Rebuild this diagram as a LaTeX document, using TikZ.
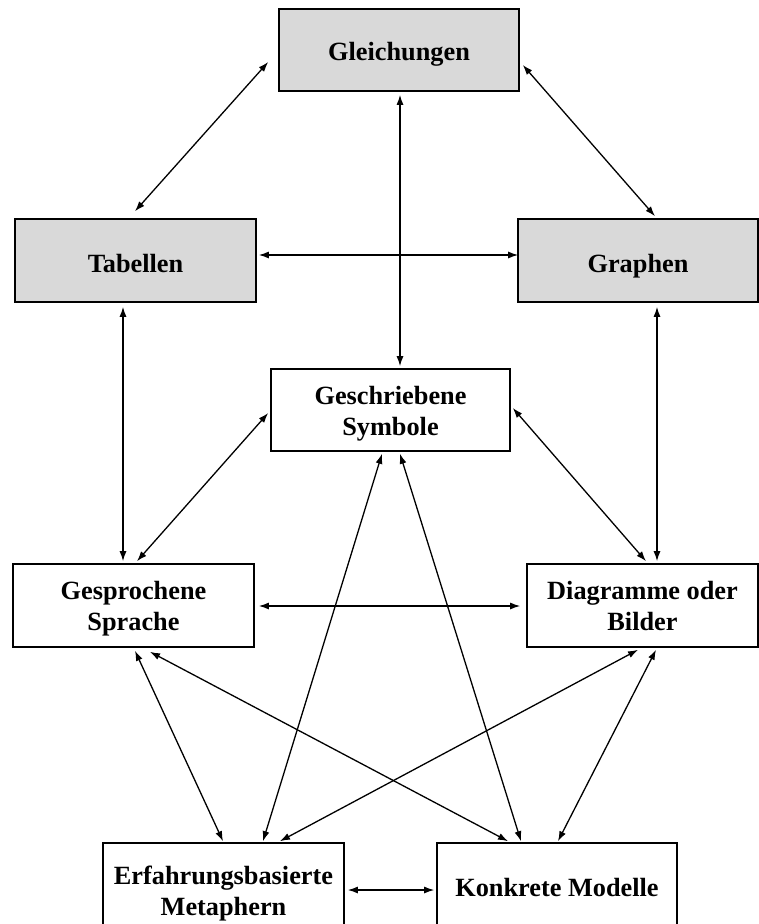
\documentclass[tikz,border=0pt]{standalone}
\usepackage{fontspec}
\setmainfont{Liberation Serif}
\usetikzlibrary{arrows.meta,calc}

\begin{document}
\begin{tikzpicture}[x=1pt,y=-1pt,
  box/.style={draw,line width=1.6pt,minimum height=83pt,align=center,
    font=\bfseries\fontsize{26.3}{31}\selectfont,inner sep=2pt},
  shaded/.style={box,fill=gray!30},
  % last baseline sits (text height)/2 below the centre
  lift/.style={text height=#1,text depth=0pt},
  link/.style={line width=1.3pt,{Latex[length=10pt,width=7pt]}-{Latex[length=10pt,width=7pt]}}]
\useasboundingbox (0,0) rectangle (759,924);
% top row
\node[shaded,lift=20pt,minimum width=240pt,minimum height=82pt] (gl) at (399,50) {Gleichungen};
\node[shaded,lift=23pt,minimum width=241pt] (tab) at (135.5,260.5) {Tabellen};
\node[shaded,lift=23pt,minimum width=240pt] (gra) at (638,260.5) {Graphen};
% middle
\node[box,lift=50pt,minimum width=239pt,minimum height=82pt] (sym) at (390.5,410) {Geschriebene\\Symbole};
\node[box,lift=49pt,minimum width=241pt] (spr) at (133.5,605.5) {Gesprochene\\Sprache};
\node[box,lift=49pt,minimum width=231pt] (dia) at (642.5,605.5) {Diagramme oder\\Bilder};
% bottom row
\node[box,lift=62pt,minimum width=241pt] (met) at (223.5,884.5) {Erfahrungsbasierte\\Metaphern};
\node[box,lift=23pt,minimum width=240pt] (mod) at (557,884.5) {Konkrete Modelle};
% links
\draw[link] ($(gl.west)+(-10,12)$) -- ($(tab.north)+(-0.5,-7)$);
\draw[link] ($(gl.east)+(3,15)$) -- ($(gra.north)+(17,-2)$);
\draw[link] ($(gl.south)+(1,3)$) -- ($(sym.north)+(9.5,-2)$);
\draw[link] ($(tab.east)+(2,-5.5)$) -- ($(gra.west)+(1,-5.5)$);
\draw[link] ($(tab.south)+(-12.5,4)$) -- ($(spr.north)+(-10.5,-2)$);
\draw[link] ($(gra.south)+(19,4)$) -- ($(dia.north)+(14.5,-2)$);
\draw[link] ($(sym.west)+(-2,3)$) -- ($(spr.north)+(3.5,-2)$);
\draw[link] ($(sym.east)+(2,-2)$) -- ($(dia.north)+(3.5,-2)$);
\draw[link] ($(sym.south)+(-8.5,2)$) -- ($(met.north)+(39.5,-1)$);
\draw[link] ($(sym.south)+(9.5,2)$) -- ($(mod.north)+(-36,-1)$);
\draw[link] ($(spr.east)+(4,0.5)$) -- ($(dia.west)+(-6,0.5)$);
\draw[link] ($(spr.south)+(1.5,3)$) -- ($(met.north)+(-0.5,-1)$);
\draw[link] ($(spr.south)+(16.5,4)$) -- ($(mod.north)+(-49,-1)$);
\draw[link] ($(dia.south)+(-4.5,2)$) -- ($(met.north)+(56.5,-1)$);
\draw[link] ($(dia.south)+(13.5,2)$) -- ($(mod.north)+(1,-1)$);
\draw[link] ($(met.east)+(3,5.5)$) -- ($(mod.west)+(-2,5.5)$);
\end{tikzpicture}
\end{document}
